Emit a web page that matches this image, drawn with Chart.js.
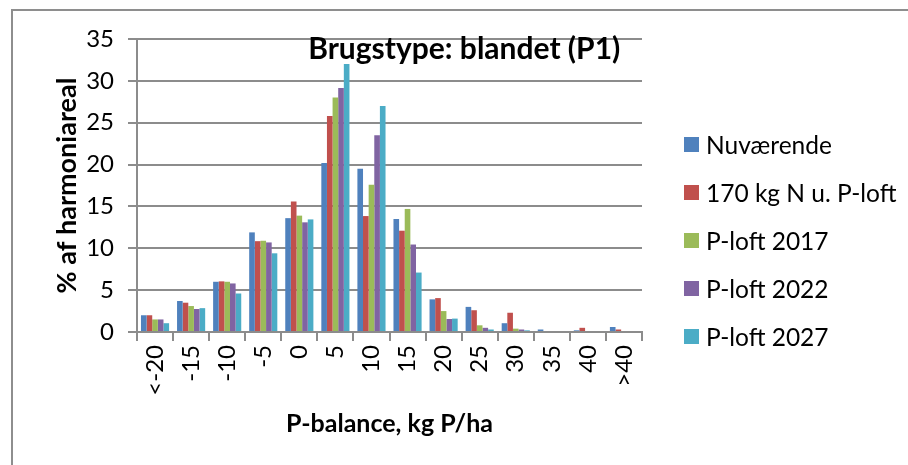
<!DOCTYPE html>
<html>
<head>
<meta charset="utf-8">
<script src="https://cdn.jsdelivr.net/npm/chart.js@4.4.1/dist/chart.umd.min.js"></script>
<style>
    body { margin: 0; background: #fff; font-family: Lato, sans-serif; }
    #frame { position: absolute; left: 11px; top: 9px; width: 1000px; height: 1000px; border-left: 2px solid #8e8e8e; border-top: 2px solid #8e8e8e; }
    #wrap { position: absolute; left: 0; top: 0; width: 908px; height: 465px; }
    #legend { position: absolute; left: 684px; top: 120px; }
    #legend .item { display: flex; align-items: center; height: 48px; font-size: 24.5px; color: #000; white-space: nowrap; }
    #legend .box { width: 15px; height: 15px; margin-right: 7px; }
</style>
</head>
<body>
<div id="frame"></div>
<div id="wrap"><canvas id="pChart"></canvas></div>
<div id="legend"></div>
<script>
const categories = ['<-20', '-15', '-10', '-5', '0', '5', '10', '15', '20', '25', '30', '35', '40', '>40'];
const seriesNames = ['Nuværende', '170 kg N u. P-loft', 'P-loft 2017', 'P-loft 2022', 'P-loft 2027'];
const nuvaerende = [2.0, 3.7, 6.0, 11.9, 13.6, 20.2, 19.5, 13.5, 3.9, 3.0, 1.05, 0.3, 0.2, 0.6];
const kg170 = [2.0, 3.5, 6.05, 10.85, 15.6, 25.8, 13.85, 12.1, 4.05, 2.6, 2.3, 0, 0.5, 0.3];
const ploft2017 = [1.5, 3.1, 6.0, 10.9, 13.9, 28.0, 17.6, 14.7, 2.5, 0.8, 0.4, 0, 0, 0];
const ploft2022 = [1.5, 2.75, 5.8, 10.7, 13.1, 29.15, 23.5, 10.45, 1.55, 0.5, 0.3, 0, 0, 0];
const ploft2027 = [1.05, 2.85, 4.6, 9.4, 13.45, 32.0, 27.0, 7.1, 1.6, 0.3, 0.2, 0, 0, 0];
const colors = ['#4F81BD', '#C0504D', '#9BBB59', '#8064A2', '#4BACC6'];
const yTicks = [0, 5, 10, 15, 20, 25, 30, 35];
const chartTitle = 'Brugstype: blandet (P1)';

const gridColor = '#8c8c8c';

// title sits inside the plot area, like in the Excel original
const innerTitle = {
    id: 'innerTitle',
    afterDatasetsDraw(chart) {
        const a = chart.chartArea;
        const ctx = chart.ctx;
        ctx.save();
        ctx.font = 'bold 30px Lato';
        ctx.fillStyle = '#000';
        ctx.textAlign = 'center';
        ctx.textBaseline = 'alphabetic';
        ctx.fillText(chartTitle, a.left + (a.right - a.left) * 0.648, a.top + 20);
        ctx.restore();
    }
};

function buildLegend(chart) {
    const box = document.getElementById('legend');
    box.innerHTML = '';
    chart.data.datasets.forEach(function(ds) {
        const item = document.createElement('div');
        item.className = 'item';
        const sw = document.createElement('span');
        sw.className = 'box';
        sw.style.background = ds.backgroundColor;
        const txt = document.createElement('span');
        txt.textContent = ds.label;
        item.appendChild(sw);
        item.appendChild(txt);
        box.appendChild(item);
    });
}

function drawChart() {
    var allSeries = [nuvaerende, kg170, ploft2017, ploft2022, ploft2027];
    var datasets = allSeries.map(function(values, i) {
        return {
            label: seriesNames[i],
            data: values,
            backgroundColor: colors[i],
            borderWidth: 0,
            categoryPercentage: 0.78,
            barPercentage: 1.0
        };
    });

    var chart = new Chart(document.getElementById('pChart').getContext('2d'), {
        type: 'bar',
        data: { labels: categories, datasets: datasets },
        plugins: [innerTitle],
        options: {
            responsive: true,
            maintainAspectRatio: false,
            animation: false,
            layout: { padding: { top: 39, right: 266, left: 0, bottom: 0 } },
            plugins: {
                tooltip: { enabled: false },
                legend: { display: false }
            },
            scales: {
                x: {
                    grid: { display: true, drawOnChartArea: false, drawTicks: true, tickLength: 9, color: gridColor, lineWidth: 2, offset: true },
                    border: { display: true, color: gridColor, width: 2 },
                    ticks: { minRotation: 90, maxRotation: 90, autoSkip: false, color: '#000', padding: 4, font: { family: 'Lato', size: 24 } },
                    title: { display: true, text: 'P-balance, kg P/ha', color: '#000', font: { family: 'Lato', size: 25, weight: 'bold' }, padding: { top: 0, bottom: 26 } },
                    afterFit: function(scale) { scale.height = 133; }
                },
                y: {
                    min: 0,
                    max: 35,
                    afterBuildTicks: function(scale) { scale.ticks = yTicks.map(v => ({ value: v })); },
                    grid: { color: gridColor, lineWidth: 2, tickLength: 9 },
                    border: { display: true, color: gridColor, width: 2 },
                    ticks: { color: '#000', padding: 14, font: { family: 'Lato', size: 24 } },
                    title: { display: true, text: '% af harmoniareal', color: '#000', font: { family: 'Lato', size: 27, weight: 'bold' }, padding: { top: 51, bottom: 0 } },
                    afterFit: function(scale) { scale.width = 137; }
                }
            }
        }
    });
    buildLegend(chart);
}

Promise.all([
    document.fonts.load('25px Lato'),
    document.fonts.load('bold 25px Lato')
]).then(drawChart, drawChart);
</script>
</body>
</html>
